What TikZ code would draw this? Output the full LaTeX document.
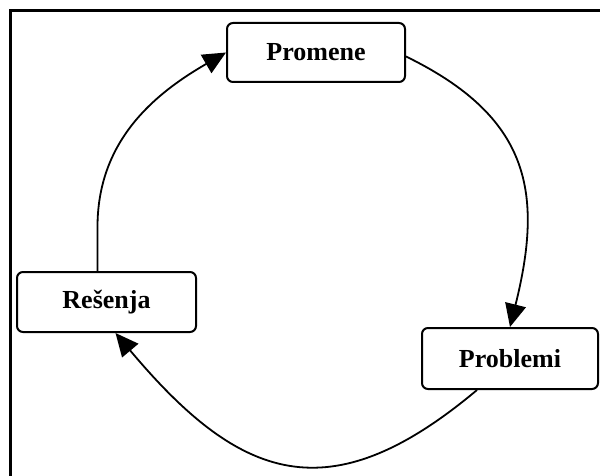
\documentclass[tikz,border=0pt]{standalone}
\usepackage{fontspec}
\setmainfont{Liberation Serif}
\usetikzlibrary{arrows.meta,calc}

\tikzset{
  stage/.style={draw, line width=2pt, rounded corners=6pt, inner sep=0pt,
    font=\fontsize{26}{30}\selectfont\bfseries, fill=white},
  flow/.style={line width=1.8pt, -{Triangle[length=23pt,width=21pt]}}
}

\begin{document}
\begin{tikzpicture}[x=1pt,y=1pt]
  \useasboundingbox (0,0) rectangle (600,475);
  % outer frame, open to the right and bottom edges
  \draw[line width=3pt] (620,-20) |- (10,464) -- (10,-20);

  \node[stage, minimum width=178pt, minimum height=59pt] (promene) at (316,422.5) {Promene};
  \node[stage, minimum width=176pt, minimum height=61pt] (problemi) at (510,116.5) {Problemi};
  \node[stage, minimum width=179pt, minimum height=60pt] (resenja) at (106.5,173) {Rešenja};

  % cycle: Promene -> Problemi -> Rešenja -> Promene
  \draw[flow] ($(promene.east)+(0,-4)$) to[out=-26, in=76, looseness=1.22] (problemi.north);
  \draw[flow] ($(problemi.south)+(-33,0)$) to[out=-140, in=-50, looseness=1.35]
    ($(resenja.south)+(9,0)$);
  \draw[flow] ($(resenja.north)+(-9,0)$) -- ++(0,44) to[out=90, in=210] (promene.west);
\end{tikzpicture}
\end{document}
